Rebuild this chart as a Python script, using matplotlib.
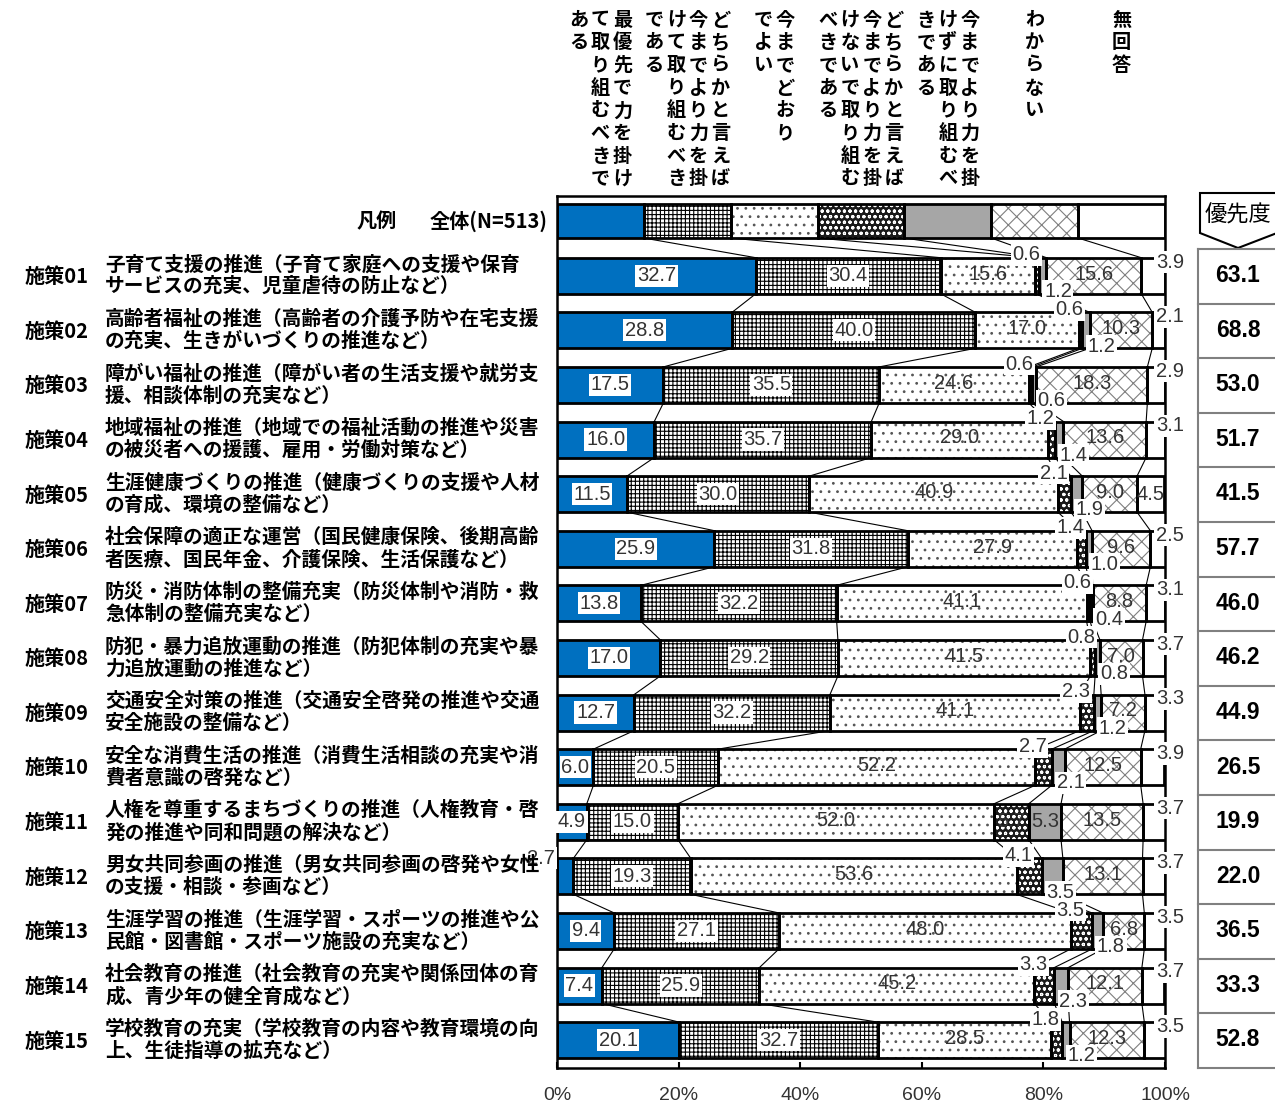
import numpy as np
import matplotlib.pyplot as plt
from matplotlib.patches import Polygon
from matplotlib.lines import Line2D

plt.rcParams['font.family'] = ['Noto Sans CJK JP', 'DejaVu Sans']
plt.rcParams['hatch.linewidth'] = 0.8

NUM_FONT = ['Liberation Sans', 'DejaVu Sans']

# answer choices (header, read top-down, columns right to left)
choices = ['最優先で力を掛けて取り組むべきである',
           'どちらかと言えば今までより力を掛けて取り組むべきである',
           '今までどおりでよい',
           'どちらかと言えば今までより力を掛けないで取り組むべきである',
           '今までより力を掛けずに取り組むべきである',
           'わからない',
           '無回答']
wrap = [8, 8, 6, 8, 8, 8, 8]

legend_label = '全体(N=513)'

policy_ids = ['施策%02d' % i for i in range(1, 16)]
policy_text = [
    ('子育て支援の推進（子育て家庭への支援や保育', 'サービスの充実、児童虐待の防止など）'),
    ('高齢者福祉の推進（高齢者の介護予防や在宅支援', 'の充実、生きがいづくりの推進など）'),
    ('障がい福祉の推進（障がい者の生活支援や就労支', '援、相談体制の充実など）'),
    ('地域福祉の推進（地域での福祉活動の推進や災害', 'の被災者への援護、雇用・労働対策など）'),
    ('生涯健康づくりの推進（健康づくりの支援や人材', 'の育成、環境の整備など）'),
    ('社会保障の適正な運営（国民健康保険、後期高齢', '者医療、国民年金、介護保険、生活保護など）'),
    ('防災・消防体制の整備充実（防災体制や消防・救', '急体制の整備充実など）'),
    ('防犯・暴力追放運動の推進（防犯体制の充実や暴', '力追放運動の推進など）'),
    ('交通安全対策の推進（交通安全啓発の推進や交通', '安全施設の整備など）'),
    ('安全な消費生活の推進（消費生活相談の充実や消', '費者意識の啓発など）'),
    ('人権を尊重するまちづくりの推進（人権教育・啓', '発の推進や同和問題の解決など）'),
    ('男女共同参画の推進（男女共同参画の啓発や女性', 'の支援・相談・参画など）'),
    ('生涯学習の推進（生涯学習・スポーツの推進や公', '民館・図書館・スポーツ施設の充実など）'),
    ('社会教育の推進（社会教育の充実や関係団体の育', '成、青少年の健全育成など）'),
    ('学校教育の充実（学校教育の内容や教育環境の向', '上、生徒指導の拡充など）'),
]

top_priority = [32.7, 28.8, 17.5, 16.0, 11.5, 25.9, 13.8, 17.0, 12.7, 6.0, 4.9, 2.7, 9.4, 7.4, 20.1]
more_effort = [30.4, 40.0, 35.5, 35.7, 30.0, 31.8, 32.2, 29.2, 32.2, 20.5, 15.0, 19.3, 27.1, 25.9, 32.7]
as_is = [15.6, 17.0, 24.6, 29.0, 40.9, 27.9, 41.1, 41.5, 41.1, 52.2, 52.0, 53.6, 48.0, 45.2, 28.5]
less_maybe = [0.6, 0.6, 0.6, 1.2, 2.1, 1.4, 0.6, 0.8, 2.3, 2.7, 5.7, 4.1, 3.5, 3.3, 1.8]
less_effort = [1.2, 1.2, 0.6, 1.4, 1.9, 1.0, 0.4, 0.8, 1.2, 2.1, 5.3, 3.5, 1.8, 2.3, 1.2]
unknown = [15.6, 10.3, 18.3, 13.6, 9.0, 9.6, 8.8, 7.0, 7.2, 12.5, 13.5, 13.1, 6.8, 12.1, 12.3]
no_answer = [3.9, 2.1, 2.9, 3.1, 4.5, 2.5, 3.1, 3.7, 3.3, 3.9, 3.7, 3.7, 3.5, 3.7, 3.5]
priority = [63.1, 68.8, 53.0, 51.7, 41.5, 57.7, 46.0, 46.2, 44.9, 26.5, 19.9, 22.0, 36.5, 33.3, 52.8]

xticks = [0, 20, 40, 60, 80, 100]
xtick_labels = ['0%', '20%', '40%', '60%', '80%', '100%']

# fill colour, hatch, hatch colour for each choice
styles = [('#0070C0', '', '#0070C0'),
          ('white', '++++', 'black'),
          ('white', '..', '#555555'),
          ('#1a1a1a', 'ooo', 'white'),
          ('#A6A6A6', '', '#A6A6A6'),
          ('white', 'xx', '#7f7f7f'),
          ('white', '', 'white')]

W, H = 1275, 1108
def fx(x):
    return x / W
def fy(y):
    return 1 - y / H

fig = plt.figure(figsize=(W / 100, H / 100), dpi=100)
ax = fig.add_axes([557 / W, 40 / H, 608 / W, 872 / H])
ax.set_xlim(0, 100)
ax.set_ylim(15.51, -0.46)

data = np.column_stack([top_priority, more_effort, as_is, less_maybe,
                        less_effort, unknown, no_answer])
legend_row = np.full(7, 100 / 7)
rows = np.vstack([legend_row, data])
heights = [0.62] + [0.66] * 15
cums = np.hstack([np.zeros((rows.shape[0], 1)), np.cumsum(rows, axis=1)])

# bars
for r in range(rows.shape[0]):
    h = heights[r]
    for k in range(7):
        left = cums[r, k]
        w = rows[r, k]
        fc, hatch, hc = styles[k]
        ax.barh(r, w, left=left, height=h, color=fc, hatch=hatch,
                edgecolor=hc, linewidth=0, zorder=2)
        ax.barh(r, w, left=left, height=h, fill=False,
                edgecolor='black', linewidth=2.0, zorder=3)

# series lines between consecutive bars
for r in range(rows.shape[0] - 1):
    y0 = r + heights[r] / 2
    y1 = r + 1 - heights[r + 1] / 2
    for k in range(1, 7):
        ax.plot([cums[r, k], cums[r + 1, k]], [y0, y1], color='black',
                lw=0.8, zorder=1.5)

# value labels
txt_kw = dict(fontsize=14.5, color='#333333', family=NUM_FONT, zorder=6)
box = dict(boxstyle='square,pad=0.08', fc='white', ec='none')
for i in range(15):
    r = i + 1
    h = heights[r]
    top = r - h / 2
    bottom = r + h / 2
    for k in range(7):
        v = rows[r, k]
        left = cums[r, k]
        mid = left + v / 2
        s = '%.1f' % v
        if k == 0:
            if v >= 3:
                ax.text(mid, r, s, ha='center', va='center', bbox=box, **txt_kw)
            else:
                ax.text(-0.3, top, s, ha='right', va='center', bbox=box, **txt_kw)
        elif k == 1:
            ax.text(mid, r, s, ha='center', va='center', bbox=box, **txt_kw)
        elif k in (2, 5):
            ax.text(mid, r - 0.03, s, ha='center', va='center', **txt_kw)
        elif k == 3:
            if v >= 5:
                ax.text(mid, r, s, ha='center', va='center', **txt_kw)
            else:
                ax.text(mid + 0.5, top - 0.05, s, ha='right', va='center',
                        bbox=box, **txt_kw)
        elif k == 4:
            if v >= 5:
                ax.text(mid, r, s, ha='center', va='center', **txt_kw)
            else:
                ax.text(left + 0.8, bottom - 0.04, s, ha='left', va='center',
                        bbox=box, **txt_kw)
        else:
            if v >= 4.2:
                ax.text(mid, r, s, ha='center', va='center', **txt_kw)
            else:
                ax.text(98.5, top + 0.08, s, ha='left', va='center',
                        bbox=box, **txt_kw)

for sp in ax.spines.values():
    sp.set_linewidth(1.8)
ax.set_yticks([])
ax.set_xticks(xticks)
ax.set_xticklabels(xtick_labels)
ax.tick_params(axis='x', direction='in', length=4, width=1.5, pad=14,
               labelsize=14, labelcolor='#333333')
for lbl in ax.get_xticklabels():
    lbl.set_family(NUM_FONT)

# vertical header text
for k, (label, n) in enumerate(zip(choices, wrap)):
    cols = [label[i:i + n] for i in range(0, len(label), n)]
    cx = 557 + 608 * (k + 0.5) / 7
    for c, col in enumerate(cols):
        x = cx + (len(cols) - 1) / 2 * 22 - c * 22
        for j, ch in enumerate(col):
            fig.text(fx(x), fy(20 + 22.7 * j), ch, ha='center', va='center',
                     fontsize=13.8, fontweight='bold')

# row labels
fig.text(fx(357), fy(221), '凡例', ha='left', va='center', fontsize=14.5,
         fontweight='bold')
fig.text(fx(548), fy(221), legend_label, ha='right', va='center',
         fontsize=14.5, fontweight='bold')
for i in range(15):
    yc = 221 + 54.6 * (i + 1)
    fig.text(fx(25), fy(yc + 1), policy_ids[i], ha='left', va='center',
             fontsize=14.5, fontweight='bold')
    fig.text(fx(105), fy(yc - 11), policy_text[i][0], ha='left', va='center',
             fontsize=14.2, fontweight='bold')
    fig.text(fx(105), fy(yc + 11), policy_text[i][1], ha='left', va='center',
             fontsize=14.2, fontweight='bold')

# priority column
arrow = Polygon([(fx(1200), fy(193)), (fx(1277), fy(193)), (fx(1277), fy(233)),
                 (fx(1238), fy(248)), (fx(1200), fy(233))],
                closed=True, fc='white', ec='black', lw=1.5,
                transform=fig.transFigure)
fig.add_artist(arrow)
fig.text(fx(1238), fy(215), '優先度', ha='center', va='center', fontsize=16)
grid_kw = dict(color='#808080', lw=1.5, transform=fig.transFigure)
fig.add_artist(Line2D([fx(1198), fx(1198)], [fy(249), fy(1068)], **grid_kw))
for i in range(16):
    yy = 249 + 54.6 * i
    fig.add_artist(Line2D([fx(1198), fx(1275)], [fy(yy), fy(yy)], **grid_kw))
for i in range(15):
    yc = 221 + 54.6 * (i + 1)
    fig.text(fx(1238), fy(yc), '%.1f' % priority[i], ha='center', va='center',
             fontsize=16.5, fontweight='bold', family=NUM_FONT)

fig.savefig('out.png', dpi=100)
